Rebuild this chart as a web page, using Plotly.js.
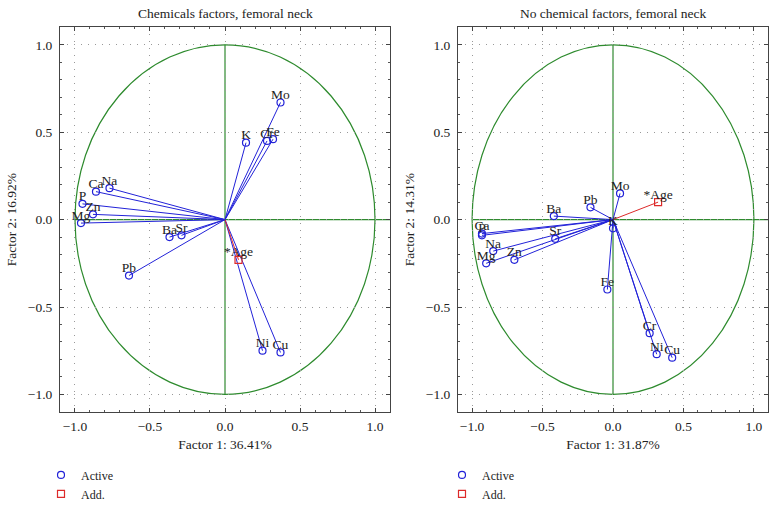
<!DOCTYPE html>
<html>
<head>
<meta charset="utf-8">
<script src="https://cdn.plot.ly/plotly-3.0.1.min.js"></script>
<style>
  body { margin: 0; background: #fff; }
  #chart { width: 776px; height: 506px; }
</style>
</head>
<body>
<div id="chart"></div>
<script>
// left panel: chemical factors
var namesA = ["Mo", "K", "Cr", "Fe", "Na", "Ca", "P", "Zn", "Mg", "Ba", "Sr", "Pb", "Ni", "Cu"];
var f1A = [0.37, 0.14, 0.28, 0.32, -0.77, -0.86, -0.95, -0.88, -0.96, -0.37, -0.29, -0.64, 0.25, 0.37];
var f2A = [0.67, 0.44, 0.45, 0.46, 0.18, 0.16, 0.09, 0.03, -0.02, -0.10, -0.09, -0.32, -0.75, -0.76];
var ageA = [0.09, -0.23];

// right panel: no chemical factors
var namesB = ["Ba", "Pb", "Mo", "K", "Ca", "P", "Na", "Mg", "Zn", "Sr", "Fe", "Cr", "Ni", "Cu"];
var f1B = [-0.42, -0.16, 0.05, 0.00, -0.93, -0.93, -0.85, -0.90, -0.70, -0.41, -0.04, 0.26, 0.31, 0.42];
var f2B = [0.02, 0.07, 0.15, -0.05, -0.08, -0.09, -0.18, -0.25, -0.23, -0.11, -0.40, -0.65, -0.77, -0.79];
var ageB = [0.32, 0.10];

var panelTitles = ["Chemicals factors, femoral neck", "No chemical factors, femoral neck"];
var xTitles = ["Factor 1: 36.41%", "Factor 1: 31.87%"];
var yTitles = ["Factor 2: 16.92%", "Factor 2: 14.31%"];
var ticks = [-1.0, -0.5, 0.0, 0.5, 1.0];

var BLUE = "#2222d8", RED = "#dd2a2a", GREEN = "#2e8b2e";
var FONT = "Liberation Serif, Times New Roman, serif";

// rays from origin: 0 -> point -> gap
function rays(xs, ys) {
  var rx = [], ry = [];
  for (var i = 0; i < xs.length; i++) {
    rx.push(0, xs[i], null);
    ry.push(0, ys[i], null);
  }
  return {x: rx, y: ry};
}

function panelTraces(names, xs, ys, age, xa, ya, leg) {
  var r = rays(xs, ys);
  return [
    {x: r.x, y: r.y, xaxis: xa, yaxis: ya, mode: "lines", line: {color: BLUE, width: 1},
     showlegend: false, hoverinfo: "skip"},
    {x: [0, age[0]], y: [0, age[1]], xaxis: xa, yaxis: ya, mode: "lines", line: {color: RED, width: 1},
     showlegend: false, hoverinfo: "skip"},
    {x: xs, y: ys, xaxis: xa, yaxis: ya, mode: "markers", name: "Active", legend: leg,
     marker: {symbol: "circle-open", size: 7, color: BLUE, line: {width: 1.2}}},
    {x: [age[0]], y: [age[1]], xaxis: xa, yaxis: ya, mode: "markers", name: "Add.", legend: leg,
     marker: {symbol: "square-open", size: 7, color: RED, line: {width: 1.2}}},
    {x: xs.concat([age[0]]), y: ys.concat([age[1]]), text: names.concat(["*Age"]),
     xaxis: xa, yaxis: ya, mode: "text", textposition: "top center",
     textfont: {family: FONT, size: 13.5, color: "#222"}, showlegend: false, hoverinfo: "skip"}
  ];
}

var data = panelTraces(namesA, f1A, f2A, ageA, "x", "y", "legend")
  .concat(panelTraces(namesB, f1B, f2B, ageB, "x2", "y2", "legend2"));

function axis(dom, anchor, title, isX) {
  return {
    domain: dom, anchor: anchor, range: [-1.1, 1.1], tickvals: ticks, tickformat: ".1f",
    title: {text: title, font: {family: FONT, size: 13.5, color: "#222"}, standoff: isX ? 6 : 8},
    showline: true, linecolor: "#444", linewidth: 1, mirror: "allticks",
    ticks: "inside", ticklen: 4, tickcolor: "#444",
    minor: {dtick: 0.1, ticks: "inside", ticklen: 2, tickcolor: "#555", showgrid: false},
    showgrid: true, gridcolor: "#999", griddash: "1px,6px", gridwidth: 1,
    zeroline: false, ticklabelstandoff: isX ? 2 : 4, automargin: false,
    tickfont: {family: FONT, size: 13.5, color: "#222"}, fixedrange: true
  };
}

var yDom = [0.186, 0.946];
var xDomA = [0.0773, 0.5026], xDomB = [0.5902, 0.9897];

function guides(xa, ya) {
  return [
    {type: "circle", xref: xa, yref: ya, x0: -1, x1: 1, y0: -1, y1: 1, line: {color: GREEN, width: 1.2}, layer: "below"},
    {type: "line", xref: xa, yref: ya, x0: -1, x1: 1.1, y0: 0, y1: 0, line: {color: GREEN, width: 1.2}, layer: "below"},
    {type: "line", xref: xa, yref: ya, x0: 0, x1: 0, y0: -1, y1: 1, line: {color: GREEN, width: 1.2}, layer: "below"}
  ];
}

var legendBase = {
  orientation: "v", yanchor: "top", xanchor: "left", y: 0.090,
  font: {family: FONT, size: 12, color: "#222"}, bgcolor: "rgba(0,0,0,0)",
  tracegroupgap: 0, itemwidth: 30
};

var layout = {
  width: 776, height: 506,
  margin: {l: 0, r: 0, t: 0, b: 0, autoexpand: false},
  paper_bgcolor: "#fff", plot_bgcolor: "#fff",
  font: {family: FONT, color: "#222"},
  xaxis: axis(xDomA, "y", xTitles[0], true),
  yaxis: axis(yDom, "x", yTitles[0], false),
  xaxis2: axis(xDomB, "y2", xTitles[1], true),
  yaxis2: axis(yDom, "x2", yTitles[1], false),
  shapes: guides("x", "y").concat(guides("x2", "y2")),
  legend: Object.assign({}, legendBase, {x: 41 / 776}),
  legend2: Object.assign({}, legendBase, {x: 442 / 776}),
  annotations: [
    {text: panelTitles[0], xref: "paper", yref: "paper", x: (xDomA[0] + xDomA[1]) / 2, y: 492 / 506,
     xanchor: "center", yanchor: "middle", showarrow: false, font: {family: FONT, size: 13.5, color: "#222"}},
    {text: panelTitles[1], xref: "paper", yref: "paper", x: (xDomB[0] + xDomB[1]) / 2, y: 492 / 506,
     xanchor: "center", yanchor: "middle", showarrow: false, font: {family: FONT, size: 13.5, color: "#222"}}
  ]
};

Plotly.newPlot("chart", data, layout, {displayModeBar: false, staticPlot: true});
</script>
</body>
</html>
